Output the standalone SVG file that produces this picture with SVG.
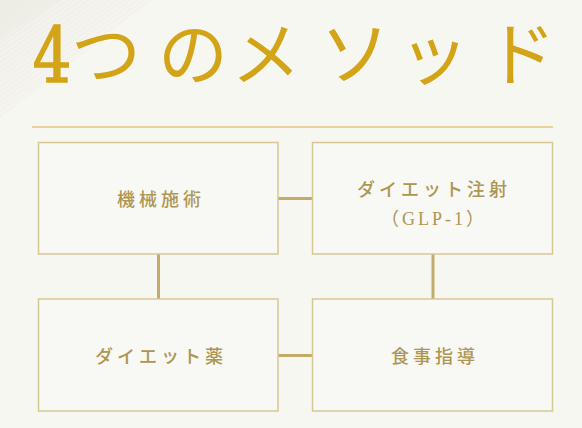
<svg xmlns="http://www.w3.org/2000/svg" width="582" height="428" viewBox="0 0 582 428">
  <defs>
    <linearGradient id="deco" x1="0" y1="0" x2="1" y2="1">
      <stop offset="0" stop-color="#ecebe2" stop-opacity="0.9"/>
      <stop offset="0.6" stop-color="#f1f0e9" stop-opacity="0.6"/>
      <stop offset="1" stop-color="#f7f7f2" stop-opacity="0"/>
    </linearGradient>
    <pattern id="hatch" width="4" height="4" patternUnits="userSpaceOnUse" patternTransform="rotate(-35)">
      <rect width="4" height="2" fill="#ffffff" opacity="0.7"/>
    </pattern>
    <style>
      .title { font-family: "Noto Sans CJK JP", sans-serif; font-size: 70px; font-weight: 400; fill: #d3a417; text-anchor: middle; }
      .num { font-family: "DejaVu Serif", "Liberation Serif", serif; font-size: 76px; font-weight: normal; fill: #d3a417; stroke: #d3a417; stroke-width: 1.6; text-anchor: middle; }
      .box { fill: #f8f8f5; stroke: #d6c892; stroke-width: 1.5; }
      .conn { stroke: #c3ac6a; stroke-width: 3; fill: none; }
      .label { font-family: "Noto Sans CJK JP", sans-serif; font-size: 18px; font-weight: 500; fill: #ad9652; text-anchor: middle; letter-spacing: 4px; }
      .sub { font-family: "Liberation Serif", "Noto Sans CJK JP", serif; font-size: 18px; fill: #ad9652; text-anchor: middle; letter-spacing: 3px; }
    </style>
  </defs>
  <rect x="0" y="0" width="582" height="428" fill="#f7f7f2"/>
  <polygon points="0,0 152,0 0,118" fill="url(#deco)"/>
  <polygon points="0,40 60,0 152,0 0,118" fill="url(#hatch)" opacity="0.35"/>

  <g id="title">
    <text class="num" transform="translate(52,82) scale(0.8,1)" x="0" y="0">4</text>
    <text class="title" y="80"><tspan x="106">つ</tspan><tspan x="193">の</tspan><tspan x="266">メ</tspan><tspan x="355">ソ</tspan><tspan x="434">ッ</tspan><tspan x="521">ド</tspan></text>
  </g>
  <line x1="32" y1="127" x2="553" y2="127" stroke="#d8b245" stroke-width="1"/>

  <g id="connectors">
    <line class="conn" x1="278" y1="198.5" x2="312" y2="198.5"/>
    <line class="conn" x1="158.5" y1="254" x2="158.5" y2="299"/>
    <line class="conn" x1="433" y1="254" x2="433" y2="299"/>
    <line class="conn" x1="278" y1="355.5" x2="312" y2="355.5"/>
  </g>

  <g id="node-kikai">
    <rect class="box" x="38.5" y="142.5" width="239.5" height="111.5"/>
    <text class="label" x="161" y="206">機械施術</text>
  </g>
  <g id="node-chusha">
    <rect class="box" x="312.5" y="142.5" width="240" height="111.5"/>
    <text class="label" x="434" y="196">ダイエット注射</text>
    <text class="sub" x="434" y="225">（GLP-1）</text>
  </g>
  <g id="node-kusuri">
    <rect class="box" x="38.5" y="299" width="239.5" height="112"/>
    <text class="label" x="161" y="363">ダイエット薬</text>
  </g>
  <g id="node-shokuji">
    <rect class="box" x="312.5" y="299" width="240" height="112"/>
    <text class="label" x="435" y="363">食事指導</text>
  </g>
</svg>
